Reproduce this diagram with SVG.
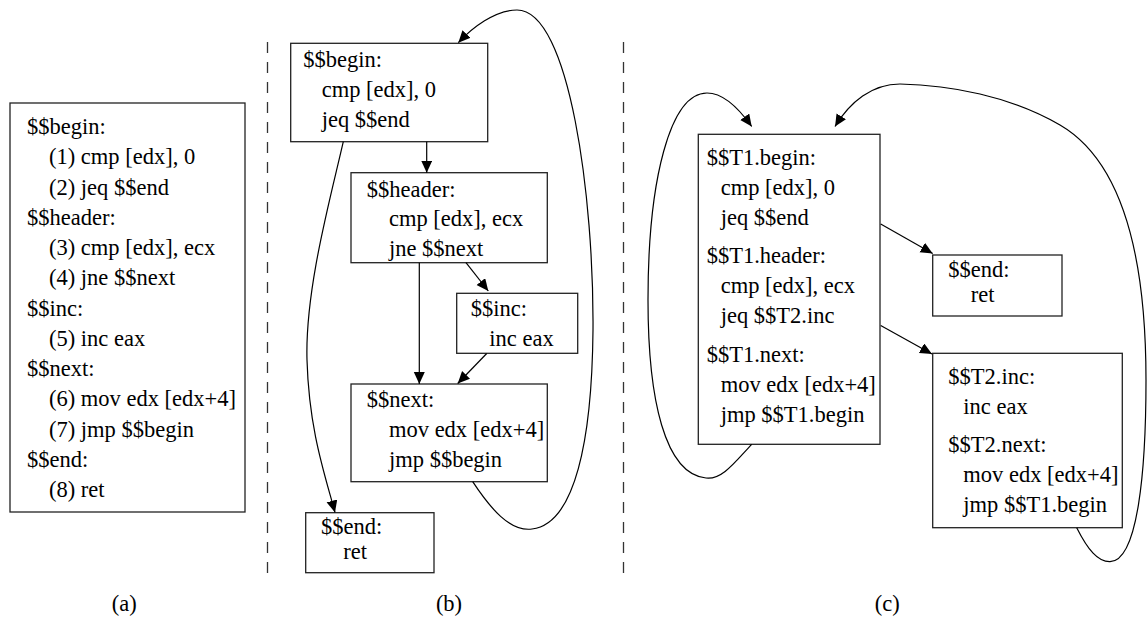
<svg xmlns="http://www.w3.org/2000/svg" width="1147" height="617" viewBox="0 0 1147 617">
  <style>
    .box { fill: #ffffff; stroke: #222222; stroke-width: 1.3; }
    text { font-family: "Liberation Serif", "Times New Roman", serif; font-size: 22.5px; fill: #000000; }
    .cap { text-anchor: middle; }
    .edge { fill: none; stroke: #000000; stroke-width: 1.2; marker-end: url(#arrow); }
    .sep { fill: none; stroke: #333333; stroke-width: 1.3; stroke-dasharray: 11 9; }
  </style>
  <defs>
    <marker id="arrow" markerUnits="userSpaceOnUse" markerWidth="13" markerHeight="12" refX="12" refY="5.5" orient="auto">
      <path d="M0,0 L12,5.5 L0,11 Z" fill="#000000"/>
    </marker>
  </defs>

  <rect width="1147" height="617" fill="#ffffff"/>

  <!-- panel separators -->
  <g id="separators">
    <line class="sep" x1="267.5" y1="42" x2="267.5" y2="573"/>
    <line class="sep" x1="623.5" y1="42" x2="623.5" y2="573"/>
  </g>

  <!-- (a) linear listing -->
  <g id="listing">
    <rect class="box" x="10" y="103" width="235" height="409"/>
    <text x="27" y="134">$$begin:</text>
    <text x="49" y="164.3">(1) cmp [edx], 0</text>
    <text x="49" y="194.5">(2) jeq $$end</text>
    <text x="27" y="224.8">$$header:</text>
    <text x="49" y="255">(3) cmp [edx], ecx</text>
    <text x="49" y="285.3">(4) jne $$next</text>
    <text x="27" y="315.5">$$inc:</text>
    <text x="49" y="345.8">(5) inc eax</text>
    <text x="27" y="376">$$next:</text>
    <text x="49" y="406.3">(6) mov edx [edx+4]</text>
    <text x="49" y="436.5">(7) jmp $$begin</text>
    <text x="27" y="466.8">$$end:</text>
    <text x="49" y="497">(8) ret</text>
  </g>

  <!-- (b) control flow graph -->
  <g id="b-begin">
    <rect class="box" x="290.7" y="43.3" width="197" height="98.4"/>
    <text x="303.3" y="66.5">$$begin:</text>
    <text x="321.7" y="96.5">cmp [edx], 0</text>
    <text x="321.7" y="126.5">jeq $$end</text>
  </g>
  <g id="b-header">
    <rect class="box" x="351" y="172.7" width="196.3" height="90"/>
    <text x="366.7" y="196.5">$$header:</text>
    <text x="389" y="226">cmp [edx], ecx</text>
    <text x="389" y="255.5">jne $$next</text>
  </g>
  <g id="b-inc">
    <rect class="box" x="456.7" y="293.3" width="121" height="60"/>
    <text x="470.7" y="316">$$inc:</text>
    <text x="489.3" y="346">inc eax</text>
  </g>
  <g id="b-next">
    <rect class="box" x="351" y="384" width="196.3" height="97.7"/>
    <text x="366.7" y="406.5">$$next:</text>
    <text x="389" y="436.5">mov edx [edx+4]</text>
    <text x="389" y="466.5">jmp $$begin</text>
  </g>
  <g id="b-end">
    <rect class="box" x="305.7" y="512.7" width="128.3" height="60"/>
    <text x="321" y="534">$$end:</text>
    <text x="343.3" y="558.5">ret</text>
  </g>

  <!-- (c) traces -->
  <g id="c-t1">
    <rect class="box" x="698.3" y="134.3" width="181.7" height="310"/>
    <text x="706.7" y="165">$$T1.begin:</text>
    <text x="720.7" y="195">cmp [edx], 0</text>
    <text x="720.7" y="225.3">jeq $$end</text>
    <text x="706.7" y="263.3">$$T1.header:</text>
    <text x="720.7" y="293.3">cmp [edx], ecx</text>
    <text x="720.7" y="323.3">jeq $$T2.inc</text>
    <text x="706.7" y="361.7">$$T1.next:</text>
    <text x="720.7" y="391.7">mov edx [edx+4]</text>
    <text x="720.7" y="421.7">jmp $$T1.begin</text>
  </g>
  <g id="c-end">
    <rect class="box" x="932.7" y="255" width="129.3" height="61"/>
    <text x="948.3" y="277.3">$$end:</text>
    <text x="970.7" y="301.8">ret</text>
  </g>
  <g id="c-t2">
    <rect class="box" x="932.7" y="353.3" width="189.6" height="174.4"/>
    <text x="948.3" y="383.5">$$T2.inc:</text>
    <text x="963.3" y="413.5">inc eax</text>
    <text x="948.3" y="451.5">$$T2.next:</text>
    <text x="963.3" y="481.5">mov edx [edx+4]</text>
    <text x="963.3" y="511.5">jmp $$T1.begin</text>
  </g>

  <!-- connectors -->
  <g id="connectors">
    <!-- (b) -->
    <path class="edge" d="M426.7,141.7 L426.7,172.7"/>
    <path class="edge" d="M466,262.7 L488.3,291"/>
    <path class="edge" d="M419.3,262.7 L419.3,384"/>
    <path class="edge" d="M486.7,353.5 L457.7,383.5"/>
    <path class="edge" d="M343.3,141.7 C330,200 305,290 307,360 C309,430 325,475 335,512.5"/>
    <path class="edge" d="M472.7,481.7 C490,508 510,532 532,529 C575,524 592,440 593,330 C594,200 570,10 517,10 C495,10 472,28 458.3,42.7"/>
    <!-- (c) -->
    <path class="edge" d="M880.7,224 L932.7,253.5"/>
    <path class="edge" d="M880.7,325.5 L932,354"/>
    <path class="edge" d="M751.7,444.3 C735,462 722,480 706,478 C665,474 648,400 648,300 C648,180 670,93 707,93 C725,93 740,110 751.7,126.5"/>
    <path class="edge" d="M1076.7,527.7 C1088,550 1098,562 1110,561.7 C1138,561 1146,470 1146,380 C1146,250 1120,160 1060,125 C1010,96 950,85 900,84 C872,84 850,102 835,126.5"/>
  </g>

  <!-- panel captions -->
  <g id="captions">
    <text class="cap" x="124.2" y="611">(a)</text>
    <text class="cap" x="449" y="611">(b)</text>
    <text class="cap" x="887.3" y="611">(c)</text>
  </g>
</svg>
